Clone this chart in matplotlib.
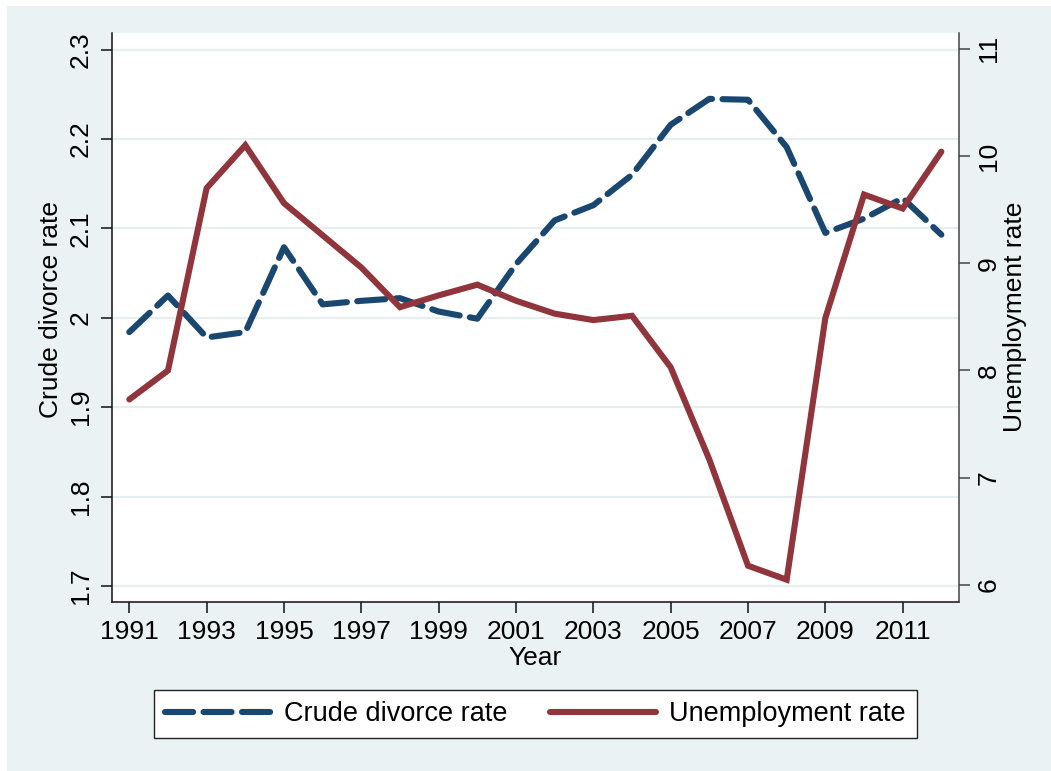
import matplotlib
matplotlib.use("Agg")
import matplotlib.pyplot as plt
from matplotlib.patches import Rectangle

# ---- data ----
years = list(range(1991, 2013))
divorce_rate = [1.984, 2.025, 1.978, 1.984, 2.079, 2.015, 2.019, 2.022, 2.007, 1.999,
                2.060, 2.109, 2.126, 2.160, 2.216, 2.245, 2.244, 2.191, 2.095, 2.111,
                2.134, 2.093]
unemployment_rate = [7.73, 8.00, 9.70, 10.10, 9.56, 9.26, 8.96, 8.59, 8.70, 8.80,
                     8.65, 8.53, 8.47, 8.51, 8.03, 7.17, 6.18, 6.05, 8.49, 9.64,
                     9.51, 10.04]
x_ticks = list(range(1991, 2012, 2))
left_ticks = [1.7, 1.8, 1.9, 2.0, 2.1, 2.2, 2.3]
left_tick_labels = ["1.7", "1.8", "1.9", "2", "2.1", "2.2", "2.3"]
right_ticks = [6, 7, 8, 9, 10, 11]
right_tick_labels = ["6", "7", "8", "9", "10", "11"]

# ---- style ----
plt.rcParams["font.family"] = ["Liberation Sans", "DejaVu Sans"]
W, H = 1051, 771
BG = "#eaf2f3"
NAVY = "#1a476f"
MAROON = "#90353b"
GRID = "#e6eef0"
FS = 19
LFS = 19.5

fig = plt.figure(figsize=(W / 100, H / 100), dpi=100)
fig.patch.set_facecolor("white")
fig.patches.append(Rectangle((7 / W, 0), 1, (H - 6) / H, transform=fig.transFigure,
                             facecolor=BG, edgecolor="none", zorder=-10))

ax = fig.add_axes([112 / W, (H - 602) / H, 847 / W, 569 / H])
ax2 = ax.twinx()
ax.set_facecolor("white")
ax2.patch.set_visible(False)

lw = 4.4
l1, = ax.plot(years, divorce_rate, color=NAVY, lw=lw, dashes=(4.6, 1.7),
              dash_capstyle="round", solid_capstyle="round", label="Crude divorce rate", zorder=3)
l2, = ax2.plot(years, unemployment_rate, color=MAROON, lw=lw, solid_capstyle="round",
               solid_joinstyle="miter", label="Unemployment rate", zorder=3)

ax.set_xlim(1990.553, 2012.456)
ax.set_ylim(1.682, 2.3187)
ax2.set_ylim(5.842, 11.146)

ax.set_xticks(x_ticks)
ax.set_xticklabels([str(y) for y in x_ticks], fontsize=FS)
ax.set_yticks(left_ticks)
ax.set_yticklabels(left_tick_labels, fontsize=FS, rotation=90, va="center")
ax2.set_yticks(right_ticks)
ax2.set_yticklabels(right_tick_labels, fontsize=FS, rotation=90, va="center")

ax.grid(axis="y", color=GRID, lw=1.6, zorder=0)
ax.set_axisbelow(True)

for a in (ax, ax2):
    a.spines["top"].set_visible(False)
ax.spines["right"].set_visible(False)
ax2.spines["left"].set_visible(False)
ax2.spines["bottom"].set_visible(False)
ax.spines["left"].set_linewidth(1.1)
ax.spines["bottom"].set_linewidth(1.1)
ax.spines["left"].set_color("#111111")
ax.spines["bottom"].set_color("#111111")
ax2.spines["right"].set_linewidth(1.1)
ax2.spines["right"].set_color("#444444")

ax.tick_params(axis="x", length=8, width=1.1, pad=5, colors="#111111", labelcolor="black")
ax.tick_params(axis="y", length=8, width=1.1, pad=6, colors="#111111", labelcolor="black")
ax2.tick_params(axis="y", length=8, width=1.1, pad=5, colors="#444444", labelcolor="black")

ax.set_xlabel("Year", fontsize=FS)
ax.xaxis.set_label_coords(0.5, (602 - 658) / 569)
ax.xaxis.label.set_va("center")
ax.set_ylabel("Crude divorce rate", fontsize=FS)
ax.yaxis.set_label_coords((51 - 112) / 847, (602 - 310) / 569)
ax.yaxis.label.set_va("center")
ax2.set_ylabel("Unemployment rate", fontsize=FS)
ax2.yaxis.set_label_coords((1015 - 112) / 847, (602 - 317) / 569)
ax2.yaxis.label.set_va("center")

leg = fig.legend(handles=[l1, l2], loc="center", bbox_to_anchor=(535.5 / W, (H - 714) / H),
                 ncol=2, fontsize=LFS, frameon=True, fancybox=False, framealpha=1,
                 edgecolor="#222222", facecolor="white", handlelength=3.9,
                 handletextpad=0.5, columnspacing=1.55, borderpad=0.4)
leg.get_frame().set_linewidth(1.0)

fig.savefig("out.png", dpi=100, facecolor=fig.get_facecolor())
